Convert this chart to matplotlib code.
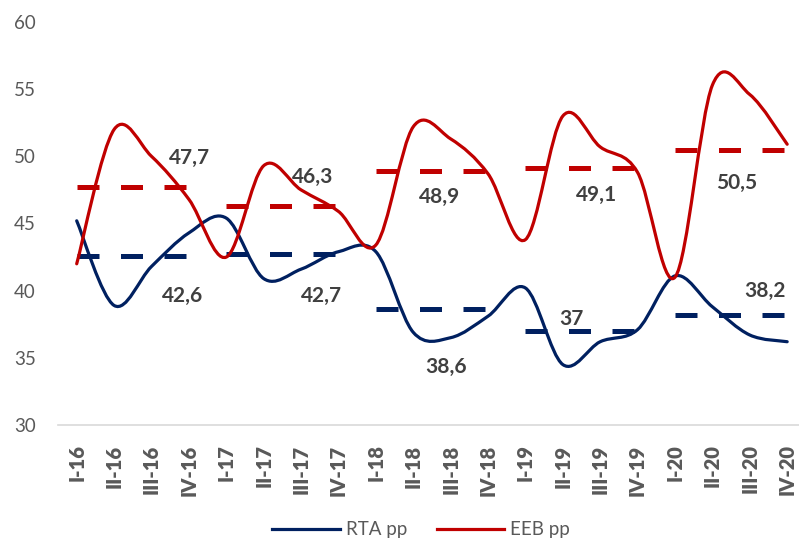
import numpy as np
import matplotlib.pyplot as plt
from matplotlib.path import Path
from matplotlib.patches import PathPatch
from matplotlib.lines import Line2D

# quarter labels and the two series
quarters = ['I-16', 'II-16', 'III-16', 'IV-16',
            'I-17', 'II-17', 'III-17', 'IV-17',
            'I-18', 'II-18', 'III-18', 'IV-18',
            'I-19', 'II-19', 'III-19', 'IV-19',
            'I-20', 'II-20', 'III-20', 'IV-20']
rta = [45.2, 38.9, 41.8, 44.3,
       45.4, 40.9, 41.6, 42.9,
       42.9, 36.9, 36.5, 38.1,
       40.2, 34.5, 36.2, 37.1,
       41.1, 38.8, 36.7, 36.2]
eeb = [42.0, 52.0, 50.0, 46.8,
       42.5, 49.3, 47.5, 45.9,
       43.4, 52.2, 51.3, 48.7,
       43.8, 53.0, 50.7, 48.8,
       41.0, 55.3, 54.6, 50.9]

# yearly averages (dashed lines)
rta_avg = [42.6, 42.7, 38.6, 37.0, 38.2]
eeb_avg = [47.7, 46.3, 48.9, 49.1, 50.5]

navy = '#002060'
red = '#C00000'
label_col = '#404040'
tick_col = '#595959'

plt.rcParams['font.family'] = ['Lato', 'DejaVu Sans']


# smooth line like the Excel "smoothed line" option (Catmull-Rom as Bezier)
def smooth_path(y):
    x = np.arange(len(y), dtype=float)
    y = np.asarray(y, dtype=float)
    pts = np.column_stack([x, y])
    verts = [pts[0]]
    codes = [Path.MOVETO]
    n = len(pts)
    for i in range(n - 1):
        p_prev = pts[i - 1] if i > 0 else pts[i]
        p_next2 = pts[i + 2] if i + 2 < n else pts[i + 1]
        c1 = pts[i] + (pts[i + 1] - p_prev) / 6
        c2 = pts[i + 1] - (p_next2 - pts[i]) / 6
        verts += [c1, c2, pts[i + 1]]
        codes += [Path.CURVE4] * 3
    return Path(verts, codes)


def fmt(v):
    return f'{v:g}'.replace('.', ',')


fig = plt.figure(figsize=(7.99, 5.43), dpi=100)
ax = fig.add_axes([0.0726, 0.2173, 0.936, 0.7422])

for series, col in [(rta, navy), (eeb, red)]:
    ax.add_patch(PathPatch(smooth_path(series), facecolor='none', edgecolor=col,
                           lw=2.3, capstyle='round', joinstyle='round', zorder=3))

for k in range(len(rta_avg)):
    xs = [4 * k, 4 * k + 3]
    ax.plot(xs, [rta_avg[k]] * 2, color=navy, lw=3.6, dashes=(4.4, 4.3),
            solid_capstyle='butt', dash_capstyle='butt', zorder=2)
    ax.plot(xs, [eeb_avg[k]] * 2, color=red, lw=3.6, dashes=(4.4, 4.3),
            solid_capstyle='butt', dash_capstyle='butt', zorder=2)

# positions of the average labels
rta_lab_pos = [(2.83, 39.6), (6.55, 39.6), (9.89, 34.3), (13.24, 37.9), (18.42, 40.0)]
eeb_lab_pos = [(3.02, 49.9), (6.31, 48.5), (9.71, 47.0), (13.9, 47.1), (17.65, 48.0)]
for k in range(len(rta_avg)):
    ax.text(*rta_lab_pos[k], fmt(rta_avg[k]), ha='center', va='center',
            fontsize=15, fontweight='bold', color=label_col, zorder=4)
    ax.text(*eeb_lab_pos[k], fmt(eeb_avg[k]), ha='center', va='center',
            fontsize=15, fontweight='bold', color=label_col, zorder=4)

ax.set_xlim(-0.5, 19.5)
ax.set_ylim(30, 60)
ax.set_yticks(range(30, 61, 5))
ax.set_xticks(range(len(quarters)))
ax.set_xticklabels(quarters, rotation=90, fontsize=14.5, fontweight='heavy', color=tick_col)
ax.tick_params(axis='y', length=0, pad=16, labelsize=13.5, labelcolor=tick_col)
ax.tick_params(axis='x', length=0, pad=14)
for s in ['top', 'right', 'left']:
    ax.spines[s].set_visible(False)
ax.spines['bottom'].set_color('#D9D9D9')
ax.spines['bottom'].set_linewidth(1.2)

handles = [Line2D([], [], color=navy, lw=2.3), Line2D([], [], color=red, lw=2.3)]
leg = fig.legend(handles, ['RTA pp', 'EEB pp'], loc='center', bbox_to_anchor=(0.527, 0.024),
                 ncol=2, frameon=False, fontsize=13.5, handlelength=3.6,
                 columnspacing=1.6, handletextpad=0.3)
for t in leg.get_texts():
    t.set_color(tick_col)

fig.savefig('out.png', dpi=100)
